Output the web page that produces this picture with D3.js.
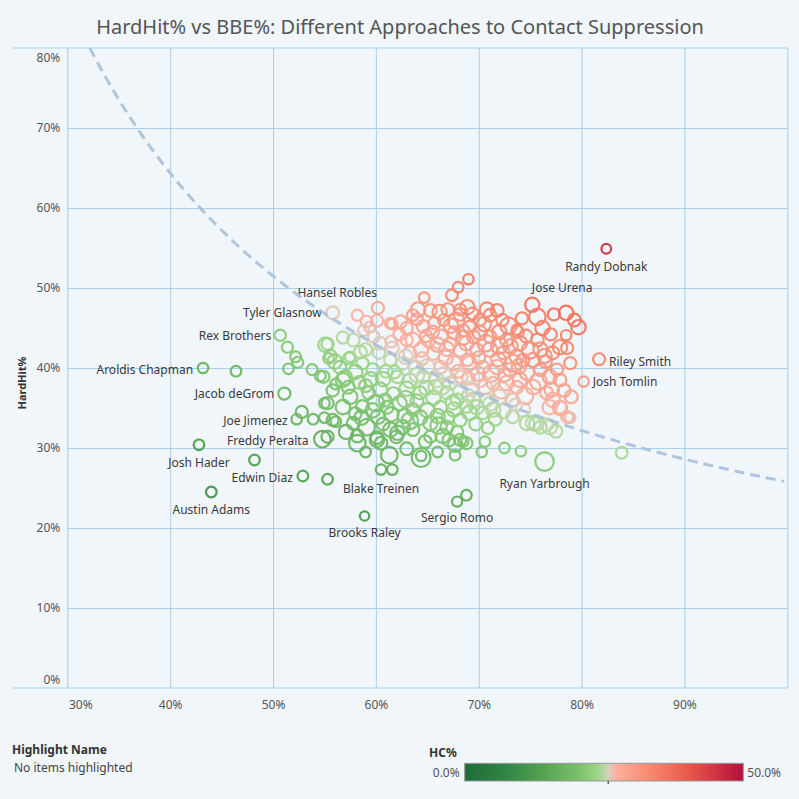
<!DOCTYPE html>
<html>
<head>
<meta charset="utf-8">
<title>HardHit% vs BBE%</title>
<script src="https://d3js.org/d3.v7.min.js"></script>
<style>
body { margin: 0; background: #f0f6fa; }
svg { display: block; font-family: "Noto Sans", sans-serif; }
.grid line { stroke: #a6d0ec; stroke-width: 1; }
.grid .domain { stroke: none; }
.axis .domain { stroke: none; }
.axis text { font-size: 12px; fill: #555; font-family: "Noto Sans", sans-serif; }
.name-label { font-size: 12px; fill: #3a3a3a; }
</style>
</head>
<body>
<svg id="chart" width="799" height="799"></svg>
<script>

// pitchers: [BBE%, HardHit%, batters faced]
const pitchers = [
  [46.4,39.6,230],[48.2,28.5,230],[55.3,26.1,230],[68.8,24.1,230],[83.9,29.4,280],
  [51.4,42.6,250],[52.2,41.4,240],[52.4,40.7,250],[51.5,39.9,230],[53.8,39.8,240],[54.6,39.0,240],
  [55.1,42.9,430],[55.4,41.2,230],[56.0,40.8,420],[57.5,41.4,230],[56.1,38.0,240],[57.0,38.8,430],
  [56.8,43.8,300],[57.8,43.5,330],
  [58.2,46.6,250],[59.1,45.8,280],[59.4,45.1,240],[60.1,45.9,300],[61.6,45.5,230],[58.8,44.7,240],
  [52.8,34.5,300],[53.9,33.6,230],[55.0,33.8,230],[56.1,33.3,230],[55.0,35.6,230],[58.2,30.6,560],
  [59.0,29.5,230],[60.1,31.3,330],[61.3,29.1,560],[61.6,27.3,230],
  [64.4,28.8,720],[64.4,29.0,220],[65.3,31.4,300],[66.0,29.5,230],[67.7,29.1,230],[67.7,30.4,420],
  [68.5,30.8,220],[67.9,32.0,300],[70.3,29.5,220],[70.6,30.8,230],[72.5,30.0,230],[74.1,29.6,220],
  [61.4,45.6,240],[60.4,43.1,330],[61.5,43.3,280],[63.0,45.0,300],[64.0,46.1,280],[64.6,45.2,330],
  [65.7,45.6,300],[66.6,46.0,280],[68.2,46.7,330],[63.6,43.5,420],[65.1,43.4,330],[66.3,43.9,420],
  [67.6,44.4,330],[68.5,44.7,300],[63.3,41.9,330],[64.4,42.3,420],[65.6,41.8,330],[66.9,42.4,420],
  [68.2,42.2,330],[68.9,41.0,300],[67.6,40.6,420],[66.3,40.1,330],[65.0,40.2,420],[62.6,40.6,330],
  [61.4,41.0,300],
  [55.3,43.0,300],[55.6,41.5,300],[57.4,41.2,300],[56.5,40.1,330],[58.7,40.6,300],[59.7,39.8,330],
  [54.9,38.9,300],[56.8,38.5,420],[58.4,38.2,330],[60.7,38.6,420],[62.1,38.9,330],[63.3,38.4,420],
  [64.6,38.9,330],[65.9,38.5,420],[67.2,38.1,330],[68.3,38.9,330],[55.8,37.2,300],[57.5,36.4,430],
  [59.3,36.9,330],[60.4,37.3,420],[61.7,36.8,330],[63.0,37.4,420],[64.3,36.9,330],[65.6,36.3,420],
  [66.9,36.9,330],[68.2,37.0,420],[55.3,35.6,300],[56.8,35.1,430],[58.7,35.2,330],[59.7,34.7,420],
  [61.1,35.1,330],[62.3,35.6,420],[63.6,34.8,330],[65.0,34.7,420],[66.3,35.1,330],[67.6,34.8,420],
  [68.8,35.2,330],[55.8,33.5,300],[57.8,33.1,330],[59.1,32.6,560],[60.7,33.0,330],[62.6,32.6,420],
  [63.6,32.3,330],[65.3,33.1,420],[66.9,32.6,330],[68.2,33.5,330],[55.3,31.4,300],[58.2,31.5,330],
  [60.1,31.0,420],[62.0,31.4,330],[68.2,31.0,300],[68.8,30.6,300],
  [70.8,47.3,420],[71.1,46.6,330],[70.1,46.0,300],[69.1,45.1,330],[68.2,47.3,280],[75.2,47.9,420],
  [75.7,46.4,560],[79.3,46.0,330],[79.7,45.1,420],[73.8,44.5,300],[72.0,44.5,420],[71.1,43.9,330],
  [70.1,44.4,420],[72.7,43.5,330],[74.0,43.1,420],[75.7,43.5,330],[76.0,42.3,420],[77.2,41.9,330],
  [77.9,42.6,420],[78.5,44.1,220],[78.6,42.5,300],[68.8,43.1,420],[69.8,42.3,330],[71.1,42.3,420],
  [72.4,41.9,330],[73.7,41.4,420],[74.3,41.0,330],[69.1,40.6,420],[70.4,40.1,330],[71.8,40.1,420],
  [73.0,39.8,330],[74.7,39.4,420],[76.0,39.8,330],[76.9,38.9,420],[77.6,39.8,300],[77.9,38.5,330],
  [69.0,38.7,330],[70.1,38.5,420],[71.4,38.1,330],[72.7,38.1,420],[73.7,37.6,330],[75.3,37.6,420],
  [76.6,36.9,330],[77.2,36.0,420],[77.9,35.1,330],[76.9,35.1,420],[78.6,33.9,300],[78.9,33.8,220],
  [69.0,51.1,220],[68.0,50.1,230],[67.4,49.1,280],[64.7,48.8,230],[67.0,47.3,330],[64.1,47.3,420],
  [68.9,47.6,420],[73.7,44.8,220],
  [69.0,36.6,300],[69.5,36.0,420],[70.8,36.0,330],[72.0,36.4,420],[73.3,36.0,330],[74.3,34.8,420],
  [75.3,33.1,430],[76.0,32.6,330],[76.9,32.6,420],[73.3,33.9,330],[69.1,34.4,420],[70.4,34.4,330],
  [71.4,34.8,420],
  [74.7,33.1,430],[75.6,33.0,420],[76.6,32.9,330],[77.5,32.1,330],[78.7,33.8,230],[77.9,35.0,430],
  [60.9,36.0,330],[62.8,34.0,420],[64.0,35.9,330],[65.8,37.6,420],[67.0,33.8,330],[61.8,39.5,330],
  [63.9,40.0,420],[59.0,37.8,330],[62.1,31.9,420],[64.8,30.8,330],[66.5,31.5,420],[69.7,33.0,330],
  [70.9,32.5,300],[71.6,33.6,330],[60.2,33.9,420],[58.0,34.3,330],[57.1,32.0,420],[63.0,29.9,330],
  [66.0,34.0,420],[67.9,36.0,330],
  [67.3,45.3,420],[69.5,43.9,330],[70.5,45.5,420],[72.3,46.0,300],[73.1,42.7,420],[74.6,44.0,330],
  [71.9,41.1,420],[70.0,41.3,330],[75.3,41.0,420],[76.5,40.8,330],[77.0,44.2,300],[68.0,39.6,330],
  [69.9,39.3,420],[72.5,39.1,330],[74.0,38.5,420],[65.5,44.5,330],[66.8,41.3,420],[64.5,41.2,330],
  [63.0,43.5,300],
  [59.0,42.3,330],[60.3,41.9,300],[59.8,43.9,280],[62.3,44.2,300],[61.0,39.6,330],[58.0,39.5,420],
  [66.2,47.0,420],[67.8,45.9,560],[69.4,46.8,300],[71.8,47.2,330],[72.9,45.3,560],[74.2,46.2,300],
  [76.2,45.0,420],[77.3,46.7,300],[73.4,40.6,560],[75.0,42.2,560],[76.4,41.5,420],[72.0,42.8,560],
  [70.7,43.1,560],[68.5,43.8,420],[67.2,43.0,330],[66.0,42.9,420],[64.9,44.0,300],[62.4,45.8,330],
  [63.6,46.6,280],[65.3,47.2,330],[71.2,39.3,560],[73.9,40.2,420],[75.8,38.3,560],[77.1,37.3,420],
  [78.3,37.2,330],[78.9,40.6,300],[79.0,36.4,330],[74.5,36.5,560],[72.2,37.2,560],[70.6,37.6,420],
  [59.5,38.6,420],[60.0,35.6,560],[61.5,34.2,420],[62.9,36.1,560],[64.9,37.5,420],[66.4,37.7,560],
  [67.5,35.7,420],[69.3,37.4,420],[63.3,33.4,560],[64.3,33.8,420],[66.1,32.8,560],[67.1,31.0,330],
  [61.4,32.3,420],[60.5,30.6,330],[58.6,33.8,420],[57.3,37.6,330],[58.5,42.0,330],[61.6,42.5,330],
  [62.9,41.4,420],[64.0,39.1,420],[66.6,39.2,420],[69.8,35.1,420],[71.1,35.5,420],[72.4,34.6,420],
  [73.6,35.4,330]
];

// labelled pitchers: [name, BBE%, HardHit%, batters faced]
const named = [
  ["Randy Dobnak",82.4,54.9,190],["Jose Urena",78.5,46.9,420],["Hansel Robles",60.2,47.5,300],
  ["Tyler Glasnow",55.8,46.9,330],["Rex Brothers",50.7,44.1,260],["Aroldis Chapman",43.2,40.0,220],
  ["Jacob deGrom",51.1,36.8,300],["Joe Jimenez",52.3,33.6,220],["Freddy Peralta",54.8,31.1,560],
  ["Josh Hader",42.8,30.4,230],["Edwin Diaz",52.9,26.5,230],["Blake Treinen",60.5,27.3,220],
  ["Brooks Raley",58.9,21.5,180],["Sergio Romo",67.9,23.3,210],["Ryan Yarbrough",76.4,28.3,700],
  ["Riley Smith",81.7,41.1,290],["Josh Tomlin",80.2,38.3,220],["Austin Adams",44.0,24.5,230]
];

const xTicks = [0.3,0.4,0.5,0.6,0.7,0.8,0.9];
const yTicks = [0,0.1,0.2,0.3,0.4,0.5,0.6,0.7,0.8];
const hcStops  = [0, 0.07, 0.14, 0.21, 0.245, 0.2575, 0.27, 0.33, 0.4, 0.5];
const hcColors = ["#1e6a39","#2f8444","#55a151","#7ec46f","#a5d98f","#d3d4c5","#fbb2a0","#f88a71","#ea5a4b","#b40f3c"];
const curveK = 0.2575;   // HardHit% x BBE% at the diverging midpoint

// label placement relative to the mark: anchor, dx, dy
const placement = {
  "Randy Dobnak":["middle",0,18], "Jose Urena":["middle",-4,-25], "Hansel Robles":["end",-1,-16],
  "Tyler Glasnow":["end",-11,0], "Rex Brothers":["end",-9,0], "Aroldis Chapman":["end",-10,1],
  "Jacob deGrom":["end",-10,0], "Joe Jimenez":["end",-9,1], "Freddy Peralta":["end",-14,1],
  "Josh Hader":["middle",0,18], "Edwin Diaz":["end",-10,1], "Blake Treinen":["middle",0,19],
  "Brooks Raley":["middle",0,16], "Sergio Romo":["middle",0,16], "Ryan Yarbrough":["middle",0,22],
  "Riley Smith":["start",10,2], "Josh Tomlin":["start",9,0], "Austin Adams":["middle",0,17]
};

const svg = d3.select("svg#chart");
const plot = {left: 67.3, right: 787.3, top: 48, bottom: 688};

const x = d3.scaleLinear().domain([0.3, 1.0]).range([plot.left, plot.right]);
const y = d3.scaleLinear().domain([0, 0.8]).range([plot.bottom, plot.top]);
const r = d3.scaleSqrt().domain([0, 750]).range([0, 9.6]);
const color = d3.scaleLinear().domain(hcStops).range(hcColors);

svg.append("rect").attr("width", 799).attr("height", 799).attr("fill", "#f0f6fa");

//title
svg.append("text")
  .attr("x", 400).attr("y", 34)
  .attr("text-anchor", "middle")
  .attr("font-size", "20px").attr("fill", "#555")
  .text("HardHit% vs BBE%: Different Approaches to Contact Suppression");

//gridlines
svg.append("g").attr("class", "grid")
  .attr("transform", `translate(0,${plot.bottom})`)
  .call(d3.axisBottom(x).tickValues(xTicks.concat([1.0])).tickSize(-(plot.bottom - plot.top)).tickFormat(""));
svg.append("g").attr("class", "grid")
  .attr("transform", `translate(${plot.left},0)`)
  .call(d3.axisLeft(y).tickValues(yTicks.slice(1, -1)).tickSize(-(plot.right - plot.left)).tickFormat(""));
[plot.top, plot.bottom].forEach(yy => {
  svg.append("line").attr("x1", 12).attr("x2", plot.right).attr("y1", yy).attr("y2", yy)
    .attr("stroke", "#a6d0ec").attr("stroke-width", 1);
});

//axes
const yAxis = svg.append("g").attr("class", "axis")
  .attr("transform", `translate(${plot.left},0)`)
  .call(d3.axisLeft(y).tickValues(yTicks).tickSize(0).tickPadding(7).tickFormat(d3.format(".0%")));
yAxis.selectAll(".tick text").filter(d => d === 0.8).attr("dy", "1.1em");
yAxis.selectAll(".tick text").filter(d => d === 0).attr("dy", "-0.4em");

const xAxis = svg.append("g").attr("class", "axis")
  .attr("transform", `translate(0,${plot.bottom})`)
  .call(d3.axisBottom(x).tickValues(xTicks).tickSize(0).tickPadding(12).tickFormat(d3.format(".0%")));
xAxis.selectAll(".tick text").filter(d => d === 0.3).attr("dx", 13);

svg.append("text")
  .attr("transform", "translate(26,383) rotate(-90)")
  .attr("text-anchor", "middle")
  .attr("font-size", "11px").attr("font-weight", "bold").attr("fill", "#333")
  .text("HardHit%");

//marks
const marks = svg.append("g").attr("id", "points");
const allPoints = pitchers.map(d => ({bbe: d[0] / 100, hh: d[1] / 100, tbf: d[2]}))
  .concat(named.map(d => ({name: d[0], bbe: d[1] / 100, hh: d[2] / 100, tbf: d[3]})));

marks.selectAll("circle").data(allPoints).enter().append("circle")
  .attr("cx", d => x(d.bbe))
  .attr("cy", d => y(d.hh))
  .attr("r", d => r(d.tbf))
  .attr("fill", "none")
  .attr("stroke", d => color(d.bbe * d.hh))
  .attr("stroke-width", 2.2)
  .attr("stroke-opacity", 0.95);

//constant hard-contact curve
const curveData = d3.range(curveK / 0.8, 1.0001, 0.005).map(b => [b, curveK / b]);
svg.append("path")
  .datum(curveData)
  .attr("d", d3.line().x(d => x(d[0])).y(d => y(d[1])).curve(d3.curveMonotoneX))
  .attr("fill", "none")
  .attr("stroke", "#a9c0d8")
  .attr("stroke-width", 3)
  .attr("stroke-dasharray", "10,6")
  .attr("opacity", 0.9);

//labels
marks.selectAll("text.name-label").data(allPoints.filter(d => d.name)).enter().append("text")
  .attr("class", "name-label")
  .attr("text-anchor", d => placement[d.name][0])
  .attr("dominant-baseline", "central")
  .attr("x", d => x(d.bbe) + placement[d.name][1])
  .attr("y", d => y(d.hh) + placement[d.name][2])
  .text(d => d.name);

//highlight text
svg.append("text").attr("x", 12).attr("y", 754).attr("font-size", "12px")
  .attr("font-weight", "bold").attr("fill", "#333").text("Highlight Name");
svg.append("text").attr("x", 14).attr("y", 772).attr("font-size", "12px")
  .attr("fill", "#444").text("No items highlighted");

//colour legend
const legend = svg.append("g").attr("class", "legend");
const lx0 = 464.7, lx1 = 743.3, ly = 763.3, lh = 17.7;
const grad = svg.append("defs").append("linearGradient").attr("id", "hcgrad");
d3.range(0, 1.0001, 0.02).forEach(t => {
  grad.append("stop").attr("offset", t).attr("stop-color", color(t * 0.5));
});
legend.append("text").attr("x", 429).attr("y", 757).attr("font-size", "12px")
  .attr("font-weight", "bold").attr("fill", "#333").text("HC%");
legend.append("rect").attr("x", lx0).attr("y", ly).attr("width", lx1 - lx0).attr("height", lh)
  .attr("fill", "url(#hcgrad)").attr("stroke", "#999").attr("stroke-width", 1);
const lscale = d3.scaleLinear().domain([0, 0.5]).range([lx0, lx1]);
legend.append("line").attr("x1", lscale(curveK)).attr("x2", lscale(curveK))
  .attr("y1", ly + lh).attr("y2", ly + lh + 3).attr("stroke", "#222");
legend.append("text").attr("x", lx0 - 5).attr("y", ly + lh / 2).attr("dominant-baseline", "central")
  .attr("text-anchor", "end").attr("font-size", "12px").attr("fill", "#555").text("0.0%");
legend.append("text").attr("x", lx1 + 4).attr("y", ly + lh / 2).attr("dominant-baseline", "central")
  .attr("font-size", "12px").attr("fill", "#555").text("50.0%");

</script>
</body>
</html>
